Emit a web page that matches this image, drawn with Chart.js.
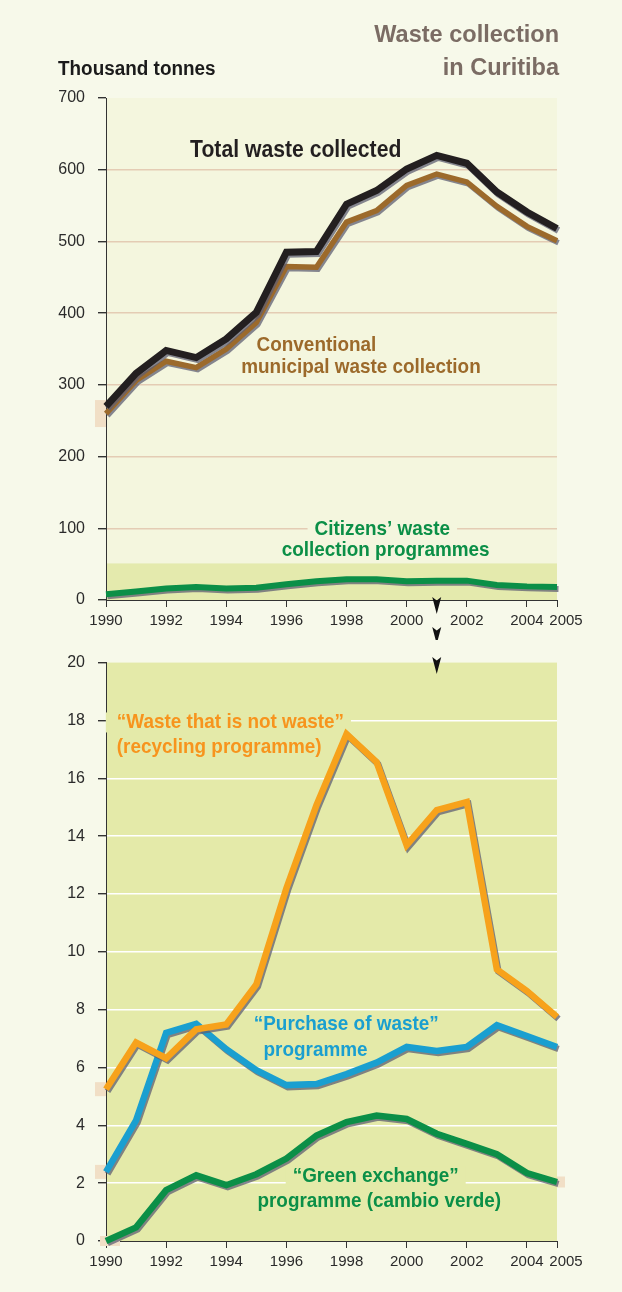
<!DOCTYPE html>
<html><head><meta charset="utf-8">
<script src="https://cdn.jsdelivr.net/npm/chart.js@4.4.1/dist/chart.umd.min.js"></script>
<style>
html,body{margin:0;padding:0;background:#f7f9ea;}
body{width:622px;height:1292px;position:relative;overflow:hidden;}
canvas{position:absolute;left:0;}
#c1{top:0;}
#c2{top:640px;}
</style></head><body>
<canvas id="c1" width="622" height="640"></canvas>
<canvas id="c2" width="622" height="652"></canvas>
<script>
// ---------- data ----------
const years = [1990,1991,1992,1993,1994,1995,1996,1997,1998,1999,2000,2001,2002,2003,2004,2005];
const xTickYears = [1990,1992,1994,1996,1998,2000,2002,2004,2005];
const yTicksTop = [0,100,200,300,400,500,600,700];
const yTicksBottom = [0,2,4,6,8,10,12,14,16,18,20];
// thousand tonnes
const totalWaste = [270,316,348,338,364,401,485,486,552,571,601,620,609,569,541,518];
const conventional = [260,306,333,324,350,387,465,464,527,543,578,594,583,549,521,501];
const citizens = [8,12,16,18,16,17,22,26,29,29,26,27,27,21,19,18];
const recycling = [5.25,6.86,6.32,7.32,7.49,8.87,12.2,15.07,17.53,16.56,13.69,14.9,15.18,9.39,8.64,7.75];
const purchase = [2.39,4.17,7.2,7.51,6.63,5.91,5.39,5.43,5.77,6.17,6.71,6.57,6.71,7.46,7.09,6.71];
const greenExchange = [0,0.47,1.76,2.27,1.93,2.31,2.85,3.65,4.11,4.34,4.22,3.71,3.36,3.0,2.35,2.04];

// ---------- style ----------
const SANS = "'Liberation Sans', Arial, sans-serif";
const AXIS = '#333333';
const TICKTXT = '#2b2b2b';

function drawText(ctx, text, x, y, size, color, align, sx, bold=true) {
  ctx.save();
  ctx.font = (bold ? 'bold ' : '') + size + 'px ' + SANS;
  ctx.fillStyle = color;
  ctx.textBaseline = 'middle';
  ctx.textAlign = align;
  ctx.translate(x, y);
  ctx.scale(sx, 1);
  ctx.fillText(text, 0, 0);
  ctx.restore();
}
function textWidth(ctx, text, size, sx) {
  ctx.save();
  ctx.font = 'bold ' + size + 'px ' + SANS;
  const w = ctx.measureText(text).width * sx;
  ctx.restore();
  return w;
}

function series(label, arr, color, width, order) {
  return {label, data: years.map((y, i) => ({x: y, y: arr[i]})), borderColor: color,
    borderWidth: width, pointRadius: 0, tension: 0, fill: false,
    borderJoinStyle: 'miter', borderCapStyle: 'butt', clip: false, order};
}

function xScale(h) {
  return {
    type: 'linear', min: 1990, max: 2005,
    afterBuildTicks: s => { s.ticks = xTickYears.map(v => ({value: v})); },
    afterFit: s => { s.height = h; },
    grid: {drawOnChartArea: false, drawTicks: true, tickLength: 7, tickColor: AXIS, color: AXIS},
    border: {color: AXIS, width: 1},
    ticks: {font: {family: SANS, size: 15}, color: TICKTXT, padding: 5, maxRotation: 0, autoSkip: false,
      callback: v => v === 2005 ? '\u2002\u2002\u20092005' : String(v)}
  };
}
function yScale(min, max, ticks, gridColor) {
  return {
    type: 'linear', min, max,
    afterBuildTicks: s => { s.ticks = ticks.map(v => ({value: v})); },
    afterFit: s => { s.width = 106; },
    grid: {color: c => (c.tick && (c.tick.value === min || c.tick.value === max)) ? 'rgba(0,0,0,0)' : gridColor,
      lineWidth: 1.4, drawTicks: true, tickLength: 8, tickColor: AXIS},
    border: {color: AXIS, width: 1},
    ticks: {font: {family: SANS, size: 16}, color: TICKTXT, padding: 13, callback: v => String(v)}
  };
}

function makeDecor(cfg) {
  return {
    id: 'decor',
    beforeDraw(chart) {
      const {ctx, chartArea: a, scales: {y}} = chart;
      ctx.save();
      ctx.fillStyle = cfg.plotBg;
      ctx.fillRect(a.left, a.top, a.right - a.left, a.bottom - a.top);
      if (cfg.band) {
        const yt = y.getPixelForValue(cfg.band.to);
        ctx.fillStyle = cfg.band.color;
        ctx.fillRect(a.left, yt, a.right - a.left, a.bottom - yt);
      }
      ctx.restore();
    },
    beforeDatasetsDraw(chart) {
      const {ctx, scales: {x, y}} = chart;
      ctx.save();
      ctx.fillStyle = '#f1dfc6';
      (cfg.marks || []).forEach(m => {
        const px = x.getPixelForValue(years[m.idx]);
        const py = y.getPixelForValue(m.series[m.idx]);
        ctx.fillRect(px + m.dx, py - m.h / 2, m.w, m.h);
      });
      ctx.restore();
      (cfg.labels || []).forEach(l => {
        let px = x.getPixelForValue(l.x), py = y.getPixelForValue(l.y);
        if (l.bg) {
          const w = textWidth(ctx, l.text, l.size, l.sx);
          const left = l.align === 'left' ? px : px - w / 2;
          ctx.save();
          ctx.fillStyle = l.bg;
          ctx.fillRect(left - (l.padL || 7), py - 10, w + (l.padL || 7) + 7, 20);
          ctx.restore();
        }
        drawText(ctx, l.text, px, py, l.size, l.color, l.align, l.sx);
      });
    },
    beforeDatasetDraw(chart) {
      const ctx = chart.ctx;
      ctx.save();
      ctx.shadowColor = 'rgba(95,95,115,0.75)';
      ctx.shadowOffsetX = 1.5;
      ctx.shadowOffsetY = 2;
      ctx.shadowBlur = 0.5;
    },
    afterDatasetDraw(chart) { chart.ctx.restore(); },
    afterDraw(chart) {
      const {ctx, scales: {x}} = chart;
      (cfg.arrows || []).forEach(ar => {
        const px = x.getPixelForValue(ar.year);
        ctx.save();
        ctx.fillStyle = '#111';
        ctx.beginPath();
        ctx.moveTo(px - 4.5, ar.top);
        ctx.lineTo(px, ar.top + 3.5);
        ctx.lineTo(px + 4.5, ar.top);
        ctx.lineTo(px, ar.top + 17);
        ctx.closePath();
        ctx.fill();
        ctx.restore();
      });
      (cfg.titles || []).forEach(t => drawText(ctx, t.text, t.x, t.y, t.size, t.color, t.align, t.sx));
    }
  };
}

const common = {
  responsive: false, animation: false, events: [],
  plugins: {legend: {display: false}, tooltip: {enabled: false}}
};

// ---------- top chart ----------
new Chart(document.getElementById('c1'), {
  type: 'line',
  data: {datasets: [
    series('Total waste collected', totalWaste, '#231f20', 7, 0),
    series('Conventional municipal waste collection', conventional, '#9c6a2b', 5.5, 1),
    series("Citizens' waste collection programmes", citizens, '#0b8f47', 6, 2)
  ]},
  options: Object.assign({}, common, {
    layout: {padding: {top: 98, right: 65, left: 0, bottom: 0}},
    scales: {x: xScale(40), y: yScale(0, 700, yTicksTop, '#e4ccb4')}
  }),
  plugins: [makeDecor({
    plotBg: '#f4f6de',
    band: {to: 51, color: '#e4eaad'},
    marks: [{series: conventional, idx: 0, dx: -11, w: 11, h: 27}],
    labels: [
      {text: 'Total waste collected', x: 1996.31, y: 626, size: 23, sx: 0.92, color: '#231f20', align: 'center'},
      {text: 'Conventional', x: 1997.0, y: 354.6, size: 21, sx: 0.9, color: '#9c6a2b', align: 'center'},
      {text: 'municipal waste collection', x: 1998.48, y: 324, size: 21, sx: 0.9, color: '#9c6a2b', align: 'center'},
      {text: 'Citizens\u2019 waste', x: 1999.19, y: 99, size: 21, sx: 0.9, color: '#0b8f47', align: 'center', bg: '#f4f6de'},
      {text: 'collection programmes', x: 1999.3, y: 69.7, size: 21, sx: 0.9, color: '#0b8f47', align: 'center'}
    ],
    arrows: [{year: 2001, top: 597}, {year: 2001, top: 627}],
    titles: [
      {text: 'Waste collection', x: 559, y: 35, size: 24, sx: 0.98, color: '#7b6c64', align: 'right'},
      {text: 'in Curitiba', x: 559, y: 68, size: 24, sx: 0.98, color: '#7b6c64', align: 'right'},
      {text: 'Thousand tonnes', x: 58, y: 70, size: 19.5, sx: 0.97, color: '#1b1b1b', align: 'left'}
    ]
  })]
});

// ---------- bottom chart ----------
new Chart(document.getElementById('c2'), {
  type: 'line',
  data: {datasets: [
    series('"Waste that is not waste" (recycling programme)', recycling, '#f7a21b', 6.5, 0),
    series('"Purchase of waste" programme', purchase, '#1a9fd0', 6.5, 1),
    series('"Green exchange" programme (cambio verde)', greenExchange, '#0b8f47', 6.5, 2)
  ]},
  options: Object.assign({}, common, {
    layout: {padding: {top: 21, right: 65, left: 0, bottom: 0}},
    scales: {x: xScale(51), y: yScale(0, 20, yTicksBottom, '#ffffff')}
  }),
  plugins: [makeDecor({
    plotBg: '#e4eaa9',
    marks: [
      {series: recycling, idx: 0, dx: -11, w: 11, h: 14},
      {series: purchase, idx: 0, dx: -11, w: 11, h: 14},
      {series: greenExchange, idx: 0, dx: -6, w: 20, h: 10},
      {series: greenExchange, idx: 15, dx: 0, w: 8, h: 11}
    ],
    labels: [
      {text: '\u201cWaste that is not waste\u201d', x: 1990.36, y: 17.93, size: 21, sx: 0.9, color: '#f7941d', align: 'left', bg: '#e4eaa9', padL: 11},
      {text: '(recycling programme)', x: 1990.36, y: 17.07, size: 21, sx: 0.9, color: '#f7941d', align: 'left'},
      {text: '\u201cPurchase of waste\u201d', x: 1997.99, y: 7.5, size: 21, sx: 0.9, color: '#1a9fd0', align: 'center'},
      {text: 'programme', x: 1996.97, y: 6.61, size: 21, sx: 0.9, color: '#1a9fd0', align: 'center'},
      {text: '\u201cGreen exchange\u201d', x: 1998.97, y: 2.24, size: 21, sx: 0.9, color: '#0b8f47', align: 'center', bg: '#e4eaa9'},
      {text: 'programme (cambio verde)', x: 1999.09, y: 1.38, size: 21, sx: 0.9, color: '#0b8f47', align: 'center'}
    ],
    arrows: [{year: 2001, top: 17}]
  })]
});
</script>
</body></html>
